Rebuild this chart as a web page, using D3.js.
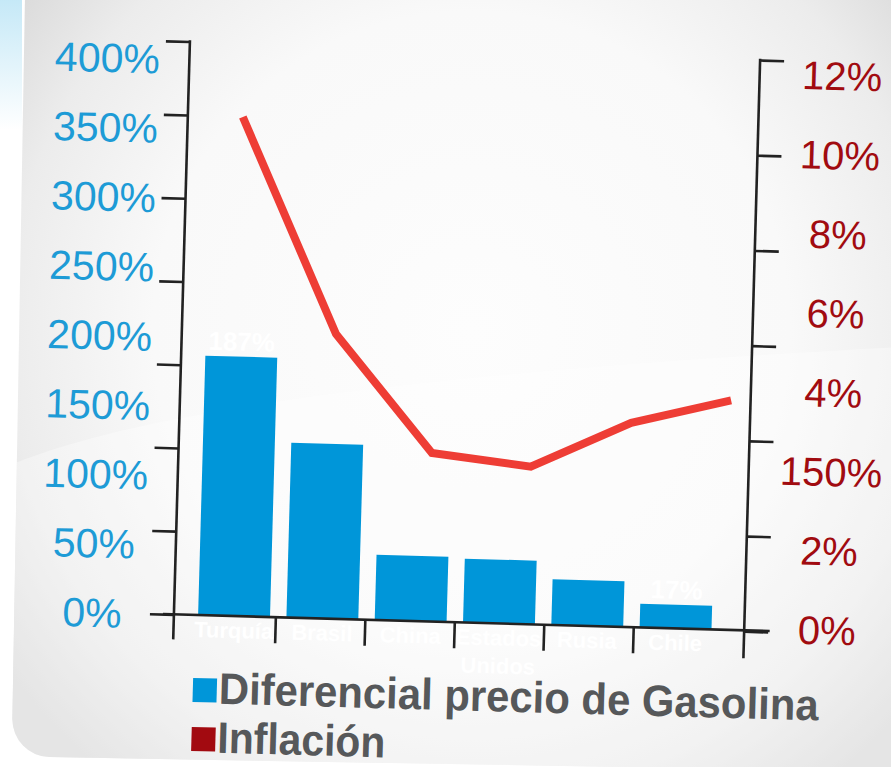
<!DOCTYPE html>
<html>
<head>
<meta charset="utf-8">
<script src="https://cdn.jsdelivr.net/npm/d3@7"></script>
<style>
  html, body { margin: 0; padding: 0; background: #ffffff; }
  svg { display: block; }
</style>
</head>
<body>
<svg id="chart" width="891" height="767"></svg>
<script>
// ---- data ----
const categories = ["Turquía", "Brasil", "China", "Estados Unidos", "Rusia", "Chile"];
const gasolina = [187, 126, 47, 46, 33, 17];          // % (left axis)
const inflacion = [10.5, 6.0, 3.56, 3.33, 4.31, 4.84]; // % (right axis)
const barLabels = ["187%", "", "", "", "", "17%"];
const leftLabelValues = [0, 50, 100, 150, 200, 250, 300, 350, 400];
const leftTickValues = [0, 60, 120, 180, 240, 300, 360, 413];
const rightTickValues = [0, 2, 4, 6, 8, 10, 12];
const rightTickLabels = ["12%", "10%", "8%", "6%", "4%", "150%", "2%", "0%"];
const legendItems = ["Diferencial precio de Gasolina", "Inflación"];

const svg = d3.select("#chart");
const defs = svg.append("defs");

// background card
const rg = defs.append("radialGradient").attr("id", "cardGrad")
  .attr("gradientUnits", "userSpaceOnUse").attr("cx", 470).attr("cy", 330).attr("r", 580);
[[0, "#fdfdfd"], [0.55, "#f9f9f9"], [0.8, "#ececec"], [1, "#d7d7d7"]]
  .forEach(([o, c]) => rg.append("stop").attr("offset", o).attr("stop-color", c));
const cg = defs.append("linearGradient").attr("id", "cyanGrad").attr("x1", 0).attr("y1", 0).attr("x2", 0).attr("y2", 1);
cg.append("stop").attr("offset", 0).attr("stop-color", "#bfe6f6").attr("stop-opacity", 0.9);
cg.append("stop").attr("offset", 1).attr("stop-color", "#bfe6f6").attr("stop-opacity", 0);

svg.append("rect").attr("x", 0).attr("y", 0).attr("width", 22).attr("height", 130).attr("fill", "url(#cyanGrad)");

const card = svg.append("g").attr("transform", "rotate(1, 450, 400)");
defs.append("clipPath").attr("id", "cardClip").append("path")
  .attr("d", "M18,-60 H968 V764 H56 A38,38 0 0 1 18,726 Z");
card.append("path").attr("d", "M18,-60 H968 V764 H56 A38,38 0 0 1 18,726 Z").attr("fill", "url(#cardGrad)");
card.append("path").attr("clip-path", "url(#cardClip)")
  .attr("d", "M0,478 C120,420 400,372 960,335 L960,780 L0,780 Z")
  .attr("fill", "#ffffff").attr("opacity", 0.35);

// ---- chart group (slightly rotated like the photo) ----
const g = svg.append("g").attr("transform", "rotate(1.6, 450, 400)");

const yL = d3.scaleLinear().domain([0, 400]).range([622, 67]);
const yR = d3.scaleLinear().domain([0, 12]).range([623, 51.5]);
const x = d3.scaleBand().domain(categories).range([196, 726]).paddingInner(0.186).paddingOuter(0.093);
const xTicks = d3.scaleBand().domain(categories).range([192.5, 729.5]);
const xLine = d3.scalePoint().domain(categories).range([235, 731]);
const yRightLabels = d3.scalePoint().domain(rightTickLabels).range([65, 619.5]);

const axisColor = "#222";
const leftX = 180, rightX = 750.5;

// bars
g.selectAll("rect.bar").data(categories).join("rect")
  .attr("class", "bar")
  .attr("x", d => x(d))
  .attr("width", x.bandwidth())
  .attr("y", (d, i) => yL(gasolina[i]))
  .attr("height", (d, i) => yL(0) - yL(gasolina[i]))
  .attr("fill", "#0096d9");

// bar value labels (white)
g.selectAll("text.val").data(categories).join("text")
  .attr("class", "val")
  .attr("x", d => x(d) + x.bandwidth() / 2)
  .attr("y", (d, i) => yL(gasolina[i]) - 6)
  .attr("text-anchor", "middle")
  .attr("font-family", "'Liberation Sans', Arial, sans-serif")
  .attr("font-weight", "bold").attr("font-size", 26)
  .attr("fill", "#ffffff")
  .text((d, i) => barLabels[i]);

// left axis
const leftAxis = d3.axisLeft(yL).tickValues(leftTickValues).tickSize(24).tickFormat("");
const la = g.append("g").attr("transform", `translate(${leftX},0)`).call(leftAxis);
la.select(".domain").remove();
la.selectAll(".tick line").attr("stroke", axisColor).attr("stroke-width", 2.6);
la.append("line").attr("x1", 0).attr("x2", 0)
  .attr("y1", yL(d3.max(leftTickValues)) - 1.3).attr("y2", yL(0) + 25)
  .attr("stroke", axisColor).attr("stroke-width", 2.6);

// left labels
g.selectAll("text.ll").data(leftLabelValues).join("text")
  .attr("class", "ll")
  .attr("x", 98).attr("y", d => yL(d)).attr("dy", "0.36em")
  .attr("text-anchor", "middle")
  .attr("font-family", "'Liberation Sans', Arial, sans-serif")
  .attr("font-size", 41).attr("fill", "#1d9bd6")
  .text(d => d + "%");

// right axis
const rightAxis = d3.axisRight(yR).tickValues(rightTickValues).tickSize(24).tickFormat("");
const ra = g.append("g").attr("transform", `translate(${rightX},0)`).call(rightAxis);
ra.select(".domain").remove();
ra.selectAll(".tick line").attr("stroke", axisColor).attr("stroke-width", 2.6);
ra.append("line").attr("x1", 0).attr("x2", 0)
  .attr("y1", yR(12) - 1.3).attr("y2", yR(0) + 27)
  .attr("stroke", axisColor).attr("stroke-width", 2.6);

// right labels
g.selectAll("text.rl").data(rightTickLabels).join("text")
  .attr("class", "rl")
  .attr("x", 833).attr("y", d => yRightLabels(d)).attr("dy", "0.36em")
  .attr("text-anchor", "middle")
  .attr("font-family", "'Liberation Sans', Arial, sans-serif")
  .attr("font-size", 40).attr("fill", "#a10b10")
  .text(d => d);

// bottom axis
g.append("line").attr("x1", 169).attr("x2", 776).attr("y1", yL(0)).attr("y2", yL(0))
  .attr("stroke", axisColor).attr("stroke-width", 2.6);
g.selectAll("line.xt").data(categories.slice(1)).join("line")
  .attr("class", "xt")
  .attr("x1", d => xTicks(d)).attr("x2", d => xTicks(d))
  .attr("y1", yL(0)).attr("y2", yL(0) + 26)
  .attr("stroke", axisColor).attr("stroke-width", 2.6);

// category labels (white)
const cat = g.selectAll("text.cat").data(categories).join("text")
  .attr("class", "cat")
  .attr("x", d => x(d) + x.bandwidth() / 2)
  .attr("y", yL(0) + 22)
  .attr("text-anchor", "middle")
  .attr("font-family", "'Liberation Sans', Arial, sans-serif")
  .attr("font-weight", "bold").attr("font-size", 22)
  .attr("fill", "#ffffff");
cat.each(function (d) {
  const words = d.split(" ");
  const t = d3.select(this);
  words.forEach((w, i) => {
    t.append("tspan").attr("x", x(d) + x.bandwidth() / 2).attr("dy", i === 0 ? 0 : 28).text(w);
  });
});

// inflation line
const line = d3.line()
  .x(d => xLine(d))
  .y((d, i) => yR(inflacion[i]));
g.append("path").datum(categories)
  .attr("d", line)
  .attr("fill", "none")
  .attr("stroke", "#ee3d35")
  .attr("stroke-width", 8)
  .attr("stroke-linejoin", "miter")
  .attr("stroke-linecap", "butt");

// legend
const legendColors = ["#0096d9", "#a20a10"];
const legendY = d3.scalePoint().domain(legendItems).range([685, 734]);
const legendWidths = [600, 168];
const lg = g.selectAll("g.leg").data(legendItems).join("g").attr("class", "leg");
lg.append("rect")
  .attr("x", 201).attr("y", d => legendY(d))
  .attr("width", 24).attr("height", 24)
  .attr("fill", (d, i) => legendColors[i]);
lg.append("text")
  .attr("x", 227).attr("y", d => legendY(d) + 25)
  .attr("font-family", "'Liberation Sans Narrow', 'Liberation Sans', Arial, sans-serif")
  .attr("font-weight", "bold").attr("font-size", 44)
  .attr("fill", "#56585a")
  .attr("textLength", (d, i) => legendWidths[i])
  .attr("lengthAdjust", "spacingAndGlyphs")
  .text(d => d);
</script>
</body>
</html>
